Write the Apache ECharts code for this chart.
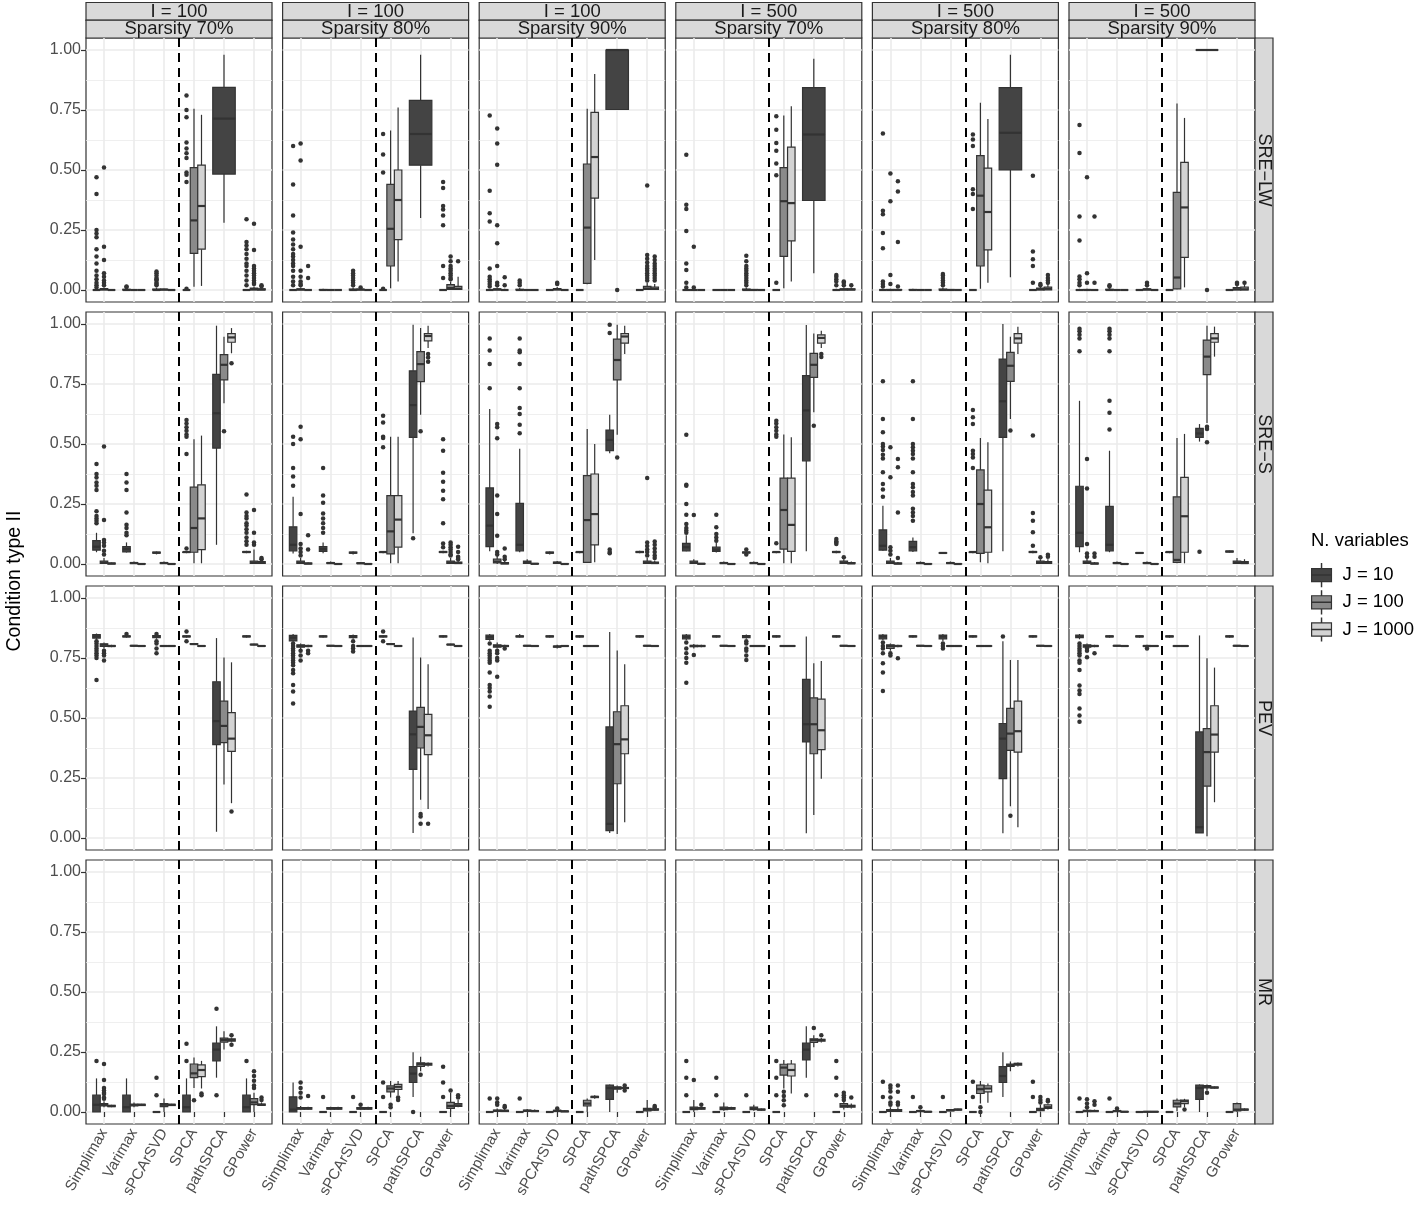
<!DOCTYPE html>
<html>
<head>
<meta charset="utf-8">
<script src="https://cdn.jsdelivr.net/npm/echarts@6/dist/echarts.min.js"></script>
<style>
  html, body { margin: 0; padding: 0; background: #fff; }
  #chart { width: 1418px; height: 1207px; }
</style>
</head>
<body>
<div id="chart"></div>
<script>
// categories and facet labels
const methods = ['Simplimax', 'Varimax', 'sPCArSVD', 'SPCA', 'pathSPCA', 'GPower'];
const jLevels = ['J = 10', 'J = 100', 'J = 1000'];
const sampleLabels = ['I = 100', 'I = 100', 'I = 100', 'I = 500', 'I = 500', 'I = 500'];
const sparsityLabels = ['Sparsity 70%', 'Sparsity 80%', 'Sparsity 90%', 'Sparsity 70%', 'Sparsity 80%', 'Sparsity 90%'];
const metricLabels = ['SRE\u2212LW', 'SRE\u2212S', 'PEV', 'MR'];
const yTicks = [0, 0.25, 0.5, 0.75, 1];
const yMinorTicks = [0.125, 0.375, 0.625, 0.875];
const xTicks = [1, 2, 3, 4, 5, 6];

// box stats per panel -> method -> J level: [min, q1, median, q3, max, [outliers]], null = not run
const sreLW = [
  [ // I = 100, 70%
    [[0,0,0,0,0,[0.47,0.40,0.25,0.235,0.22,0.17,0.14,0.11,0.08,0.06,0.045,0.03,0.02,0.01]], [0,0,0.003,0.006,0.01,[0.51,0.18,0.125,0.07,0.055,0.04,0.03,0.02]], [0,0,0,0,0.002]],
    [[0,0,0,0.003,0.006,[0.012,0.015]], [0,0,0,0,0.002], [0,0,0,0,0]],
    [[0,0,0,0.004,0.01,[0.077,0.07,0.06,0.05,0.045,0.04,0.03,0.025,0.02]], [0,0,0.002,0.003,0.005], [0,0,0,0,0.002]],
    [[0,0,0,0,0,[0.81,0.75,0.72,0.615,0.59,0.57,0.55,0.49,0.48,0.45,0.005]], [0.014,0.153,0.29,0.51,0.755], [0.017,0.17,0.35,0.52,0.73]],
    [[0.28,0.483,0.714,0.844,0.98], null, null],
    [[0,0,0,0,0,[0.295,0.2,0.185,0.17,0.15,0.13,0.11,0.1,0.08,0.06,0.04,0.02]], [0,0,0.003,0.008,0.015,[0.276,0.167,0.1,0.09,0.08,0.07,0.06,0.05,0.04,0.03,0.025]], [0,0,0.002,0.005,0.01,[0.02,0.015]]]
  ],
  [ // I = 100, 80%
    [[0,0,0,0,0,[0.6,0.44,0.31,0.24,0.21,0.19,0.17,0.15,0.14,0.125,0.11,0.1,0.08,0.055,0.035,0.02]], [0,0,0.002,0.005,0.01,[0.61,0.54,0.18,0.08,0.055,0.035,0.025,0.02]], [0,0,0,0,0.002,[0.1,0.05]]],
    [[0,0,0,0.002,0.005], [0,0,0,0,0.002], [0,0,0,0,0]],
    [[0,0,0,0.004,0.01,[0.08,0.07,0.06,0.05,0.04,0.03,0.02]], [0,0,0.002,0.003,0.005,[0.01]], [0,0,0,0,0.002]],
    [[0,0,0,0,0,[0.65,0.565,0.49,0.005]], [0.007,0.1,0.255,0.44,0.665], [0.035,0.21,0.375,0.5,0.76]],
    [[0.30,0.52,0.65,0.79,0.98], null, null],
    [[0,0,0,0,0,[0.45,0.425,0.35,0.335,0.31,0.27,0.1,0.05]], [0,0.003,0.008,0.022,0.035,[0.14,0.12,0.1,0.09,0.08,0.07,0.06,0.05,0.045]], [0,0.002,0.006,0.015,0.055,[0.12]]]
  ],
  [ // I = 100, 90%
    [[0,0,0,0,0,[0.727,0.414,0.32,0.285,0.09,0.055,0.045,0.035,0.025,0.015]], [0,0,0.002,0.005,0.01,[0.673,0.61,0.522,0.27,0.195,0.1,0.03,0.02]], [0,0,0,0,0.005,[0.053,0.02]]],
    [[0,0,0,0.003,0.008,[0.04,0.03,0.02]], [0,0,0,0,0.002], [0,0,0,0,0]],
    [[0,0,0,0,0.002], [0,0,0.003,0.006,0.012,[0.03,0.025]], [0,0,0,0,0]],
    [[0,0,0,0,0], [0.024,0.028,0.26,0.525,0.755], [0.125,0.383,0.554,0.74,0.9]],
    [[0.752,0.752,1,1,1,[0]], null, null],
    [[0,0,0,0,0], [0,0.002,0.006,0.015,0.03,[0.435,0.146,0.13,0.115,0.1,0.09,0.08,0.07,0.06,0.05,0.04]], [0,0.002,0.005,0.012,0.025,[0.14,0.125,0.11,0.1,0.09,0.08,0.07,0.06,0.05,0.04]]]
  ],
  [ // I = 500, 70%
    [[0,0,0,0,0,[0.564,0.355,0.337,0.246,0.11,0.083,0.03,0.01]], [0,0,0,0,0.003,[0.18,0.01]], [0,0,0,0,0.002]],
    [[0,0,0,0,0.002], [0,0,0,0,0.002], [0,0,0,0,0]],
    [[0,0,0,0.004,0.01,[0.143,0.12,0.1,0.09,0.08,0.07,0.06,0.05,0.04,0.03,0.02]], [0,0,0,0.002,0.004], [0,0,0,0,0.002]],
    [[0,0,0,0,0,[0.724,0.668,0.613,0.58,0.527,0.478,0.03]], [0.007,0.14,0.37,0.51,0.727], [0.035,0.205,0.362,0.595,0.766]],
    [[0.07,0.373,0.648,0.843,0.964], null, null],
    [[0,0,0,0,0.005,[0.063,0.055,0.045,0.035,0.02]], [0,0,0.002,0.005,0.01,[0.035,0.03,0.02]], [0,0,0.002,0.005,0.01,[0.02]]]
  ],
  [ // I = 500, 80%
    [[0,0,0,0,0.005,[0.652,0.33,0.316,0.237,0.174,0.035,0.025,0.015]], [0,0,0,0.002,0.005,[0.485,0.37,0.063,0.025]], [0,0,0,0.002,0.004,[0.453,0.41,0.2,0.015]]],
    [[0,0,0,0.002,0.005], [0,0,0,0,0.002], [0,0,0,0,0]],
    [[0,0,0,0.004,0.01,[0.067,0.06,0.05,0.04,0.03,0.02]], [0,0,0,0.002,0.004], [0,0,0,0,0.002]],
    [[0,0,0,0,0,[0.648,0.627,0.6,0.42,0.4,0.337]], [0.005,0.1,0.393,0.56,0.78], [0.03,0.167,0.325,0.508,0.713]],
    [[0.053,0.5,0.655,0.843,0.98], null, null],
    [[0,0,0,0,0,[0.476,0.16,0.128,0.1,0.03]], [0,0,0.003,0.008,0.015,[0.025,0.02]], [0,0,0.005,0.012,0.025,[0.063,0.05,0.04,0.03]]]
  ],
  [ // I = 500, 90%
    [[0,0,0,0,0.005,[0.687,0.571,0.306,0.206,0.056,0.045,0.03,0.02]], [0,0,0,0.002,0.005,[0.47,0.07,0.03]], [0,0,0,0,0.003,[0.306,0.03]]],
    [[0,0,0,0.003,0.008,[0.02,0.015]], [0,0,0,0,0.002], [0,0,0,0,0]],
    [[0,0,0,0,0.002], [0,0,0.002,0.005,0.01,[0.03,0.02]], [0,0,0,0,0]],
    [[0,0,0,0,0], [0.003,0.005,0.052,0.407,0.777], [0.011,0.136,0.344,0.532,0.717]],
    [[1,1,1,1,1,[0]], null, null],
    [[0,0,0,0,0], [0,0,0.003,0.01,0.02,[0.03,0.025]], [0,0,0.003,0.012,0.025,[0.03]]]
  ]
];

const sreS = [
  [
    [[0.049,0.058,0.072,0.097,0.13,[0.417,0.375,0.36,0.34,0.326,0.308,0.22,0.2,0.19,0.18,0.17]], [0,0.003,0.006,0.012,0.025,[0.49,0.183,0.1,0.09,0.076,0.055,0.04]], [0,0,0.002,0.004,0.006]],
    [[0.048,0.05,0.062,0.072,0.09,[0.375,0.34,0.308,0.215,0.164,0.15,0.13,0.12]], [0,0.002,0.004,0.006,0.01], [0,0,0,0.001,0.003]],
    [[0.04,0.045,0.047,0.05,0.052], [0,0.002,0.004,0.006,0.01], [0,0,0,0.001,0.003]],
    [[0.045,0.048,0.05,0.05,0.05,[0.6,0.585,0.57,0.555,0.54,0.53,0.458,0.065]], [0.003,0.049,0.15,0.32,0.52], [0.003,0.06,0.19,0.33,0.535]],
    [[0.08,0.483,0.628,0.79,0.993], [0.67,0.767,0.83,0.872,0.947,[0.553]], [0.878,0.924,0.944,0.96,0.983,[0.836]]],
    [[0.045,0.048,0.05,0.052,0.055,[0.29,0.215,0.2,0.19,0.17,0.16,0.145,0.13,0.11,0.095,0.08]], [0,0.003,0.006,0.012,0.06,[0.225,0.13,0.09,0.08]], [0,0.002,0.005,0.01,0.015,[0.02,0.025]]]
  ],
  [
    [[0.044,0.055,0.08,0.155,0.28,[0.53,0.5,0.4,0.365,0.326]], [0,0.003,0.006,0.012,0.025,[0.572,0.52,0.208,0.083,0.065,0.05,0.035]], [0,0,0.002,0.004,0.006,[0.12,0.06]]],
    [[0.045,0.053,0.062,0.072,0.09,[0.4,0.285,0.255,0.21,0.19,0.17,0.15,0.13]], [0,0.002,0.004,0.006,0.01], [0,0,0,0.001,0.003]],
    [[0.04,0.045,0.047,0.05,0.052], [0,0.002,0.003,0.005,0.008], [0,0,0,0.001,0.003]],
    [[0.045,0.048,0.05,0.05,0.052,[0.618,0.59,0.53,0.525,0.486]], [0.003,0.042,0.136,0.285,0.53], [0.003,0.07,0.185,0.285,0.53]],
    [[0.128,0.528,0.662,0.805,0.997,[0.107]], [0.622,0.76,0.833,0.885,0.983,[0.553]], [0.9,0.93,0.95,0.96,0.993,[0.875,0.86,0.843]]],
    [[0.045,0.048,0.05,0.052,0.055,[0.52,0.472,0.38,0.343,0.305,0.27,0.17,0.085,0.07]], [0,0.003,0.006,0.012,0.025,[0.09,0.08,0.07,0.06,0.05,0.04,0.035]], [0,0.002,0.004,0.008,0.015,[0.072,0.05,0.03,0.025,0.02]]]
  ],
  [
    [[0.053,0.072,0.16,0.317,0.646,[0.94,0.89,0.833,0.732]], [0,0.005,0.01,0.02,0.035,[0.583,0.57,0.524,0.285,0.208,0.118,0.05,0.04]], [0,0,0.003,0.006,0.012,[0.065,0.03,0.02]]],
    [[0.049,0.055,0.08,0.253,0.48,[0.94,0.89,0.882,0.833,0.732,0.65,0.625,0.58,0.545]], [0,0.003,0.008,0.012,0.02], [0,0,0.001,0.002,0.004]],
    [[0.04,0.045,0.047,0.05,0.052], [0,0.002,0.005,0.008,0.012], [0,0,0,0.001,0.003]],
    [[0.045,0.048,0.05,0.05,0.052], [0.007,0.007,0.183,0.368,0.562], [0.007,0.08,0.208,0.375,0.5]],
    [[0.461,0.472,0.517,0.558,0.622,[0.997,0.962,0.06,0.05,0.045]], [0.539,0.767,0.85,0.937,0.997,[0.444]], [0.875,0.92,0.948,0.96,0.993]],
    [[0.045,0.048,0.05,0.052,0.055], [0,0.003,0.006,0.012,0.025,[0.358,0.09,0.075,0.06,0.05,0.035]], [0,0.002,0.004,0.008,0.015,[0.094,0.08,0.065,0.05,0.035,0.025]]]
  ],
  [
    [[0.053,0.055,0.07,0.086,0.12,[0.539,0.33,0.326,0.25,0.205,0.167,0.15,0.14,0.13]], [0,0.003,0.006,0.012,0.02,[0.204]], [0,0,0.001,0.002,0.004]],
    [[0.048,0.053,0.06,0.07,0.09,[0.205,0.153,0.125,0.11,0.097]], [0,0.002,0.004,0.006,0.01], [0,0,0,0.001,0.003]],
    [[0.043,0.046,0.048,0.05,0.052,[0.06,0.04]], [0,0.002,0.004,0.006,0.01], [0,0,0,0.001,0.003]],
    [[0.045,0.048,0.05,0.05,0.052,[0.597,0.585,0.57,0.555,0.54,0.53,0.086]], [0.003,0.062,0.225,0.358,0.54], [0.003,0.053,0.163,0.358,0.528]],
    [[0.053,0.43,0.64,0.785,0.996], [0.632,0.778,0.83,0.878,0.96,[0.576]], [0.9,0.92,0.942,0.955,0.972,[0.875,0.862]]],
    [[0.045,0.048,0.05,0.052,0.055,[0.104,0.095,0.09,0.083]], [0,0.003,0.006,0.012,0.02,[0.028]], [0,0.001,0.003,0.006,0.01]]
  ],
  [
    [[0.055,0.058,0.076,0.142,0.243,[0.761,0.604,0.549,0.5,0.49,0.475,0.455,0.44,0.382,0.333,0.31,0.28]], [0,0.003,0.006,0.012,0.025,[0.486,0.361,0.07,0.055,0.04]], [0,0,0.002,0.004,0.008,[0.437,0.403,0.215,0.025]]],
    [[0.05,0.055,0.07,0.094,0.11,[0.761,0.604,0.5,0.486,0.472,0.458,0.44,0.382,0.333,0.32,0.3,0.285,0.23,0.215,0.2,0.18]], [0,0.002,0.004,0.006,0.01], [0,0,0,0.001,0.003]],
    [[0.043,0.045,0.046,0.047,0.048], [0,0.002,0.004,0.006,0.01], [0,0,0,0.001,0.003]],
    [[0.045,0.048,0.05,0.05,0.052,[0.642,0.611,0.583,0.472,0.458,0.444,0.4]], [0.007,0.044,0.25,0.392,0.525], [0.003,0.049,0.153,0.308,0.507]],
    [[0.053,0.528,0.678,0.854,1.0], [0.604,0.761,0.826,0.882,0.947,[0.556]], [0.875,0.92,0.94,0.96,0.989]],
    [[0.045,0.048,0.05,0.052,0.055,[0.535,0.212,0.18,0.132,0.076]], [0,0.003,0.006,0.012,0.02,[0.028]], [0,0.002,0.005,0.01,0.02,[0.039,0.03]]]
  ],
  [
    [[0.049,0.072,0.13,0.324,0.68,[0.98,0.97,0.955,0.94,0.886]], [0,0.003,0.006,0.012,0.025,[0.437,0.315,0.083,0.044,0.03]], [0,0,0.002,0.004,0.008,[0.044,0.03]]],
    [[0.049,0.055,0.08,0.24,0.472,[0.98,0.97,0.955,0.94,0.886,0.68,0.63,0.56]], [0,0.002,0.004,0.006,0.01], [0,0,0,0.001,0.003]],
    [[0.043,0.045,0.046,0.047,0.048], [0,0.002,0.004,0.006,0.01], [0,0,0,0.001,0.003]],
    [[0.045,0.048,0.05,0.05,0.052], [0.003,0.007,0.017,0.28,0.525], [0.003,0.049,0.199,0.361,0.542]],
    [[0.51,0.528,0.544,0.565,0.583,[0.051]], [0.588,0.789,0.864,0.933,0.993,[0.572,0.562,0.507]], [0.864,0.924,0.94,0.96,0.989]],
    [[0.048,0.05,0.052,0.054,0.056], [0,0.003,0.006,0.012,0.025], [0,0.002,0.004,0.01,0.02]]
  ]
];

const pev = [
  [
    [[0.826,0.833,0.84,0.847,0.852,[0.82,0.81,0.8,0.79,0.78,0.77,0.76,0.75,0.658]], [0.79,0.798,0.805,0.809,0.815,[0.78,0.77,0.76,0.74]], [0.795,0.798,0.8,0.802,0.805]],
    [[0.835,0.838,0.84,0.842,0.845,[0.85]], [0.798,0.8,0.801,0.802,0.804], [0.798,0.799,0.8,0.801,0.802]],
    [[0.83,0.835,0.84,0.843,0.848,[0.85,0.82,0.81,0.79,0.77]], [0.798,0.799,0.8,0.801,0.802], [0.798,0.799,0.8,0.801,0.802]],
    [[0.835,0.838,0.84,0.842,0.845,[0.86,0.82]], [0.805,0.807,0.808,0.81,0.812], [0.798,0.799,0.8,0.801,0.802]],
    [[0.026,0.389,0.487,0.651,0.833], [0.223,0.397,0.467,0.57,0.752], [0.145,0.361,0.414,0.522,0.732,[0.11]]],
    [[0.835,0.838,0.84,0.842,0.845], [0.803,0.805,0.806,0.807,0.809], [0.798,0.799,0.8,0.801,0.802]]
  ],
  [
    [[0.818,0.821,0.835,0.844,0.85,[0.81,0.8,0.79,0.78,0.77,0.76,0.75,0.74,0.73,0.72,0.7,0.686,0.637,0.61,0.56]], [0.785,0.795,0.8,0.805,0.81,[0.78,0.76,0.74]], [0.795,0.798,0.8,0.802,0.805,[0.78,0.77]]],
    [[0.835,0.838,0.84,0.842,0.845], [0.798,0.8,0.801,0.802,0.804], [0.798,0.799,0.8,0.801,0.802]],
    [[0.83,0.835,0.84,0.843,0.848,[0.82,0.8,0.79,0.777]], [0.798,0.799,0.8,0.801,0.802], [0.798,0.799,0.8,0.801,0.802]],
    [[0.835,0.838,0.84,0.842,0.845,[0.86,0.82]], [0.805,0.807,0.808,0.81,0.812], [0.798,0.799,0.8,0.801,0.802]],
    [[0.021,0.286,0.432,0.529,0.835], [0.159,0.375,0.463,0.544,0.752,[0.1,0.09,0.059]], [0.121,0.347,0.428,0.515,0.724,[0.059]]],
    [[0.835,0.838,0.84,0.842,0.845], [0.803,0.805,0.806,0.807,0.809], [0.798,0.799,0.8,0.801,0.802]]
  ],
  [
    [[0.822,0.828,0.838,0.845,0.85,[0.81,0.78,0.77,0.76,0.75,0.74,0.73,0.69,0.637,0.625,0.61,0.59,0.547]], [0.79,0.795,0.8,0.805,0.815,[0.78,0.77,0.75,0.74,0.672]], [0.795,0.798,0.8,0.802,0.805,[0.79]]],
    [[0.835,0.838,0.84,0.842,0.85], [0.798,0.8,0.801,0.802,0.804], [0.798,0.799,0.8,0.801,0.802]],
    [[0.835,0.838,0.84,0.842,0.845], [0.79,0.795,0.798,0.8,0.805], [0.798,0.799,0.8,0.801,0.802]],
    [[0.835,0.838,0.84,0.842,0.845], [0.798,0.799,0.8,0.801,0.803], [0.798,0.799,0.8,0.801,0.802]],
    [[0.021,0.031,0.059,0.463,0.858], [0.017,0.226,0.391,0.526,0.781], [0.066,0.351,0.411,0.551,0.724]],
    [[0.835,0.838,0.84,0.842,0.845], [0.798,0.8,0.801,0.802,0.804], [0.798,0.799,0.8,0.801,0.802]]
  ],
  [
    [[0.825,0.83,0.838,0.845,0.85,[0.815,0.79,0.77,0.75,0.73,0.647]], [0.79,0.797,0.8,0.803,0.808,[0.763]], [0.795,0.798,0.8,0.802,0.805]],
    [[0.835,0.838,0.84,0.842,0.845], [0.798,0.8,0.801,0.802,0.804], [0.798,0.799,0.8,0.801,0.802]],
    [[0.83,0.835,0.84,0.843,0.848,[0.82,0.81,0.79,0.78,0.76,0.742]], [0.798,0.799,0.8,0.801,0.802], [0.798,0.799,0.8,0.801,0.802]],
    [[0.835,0.838,0.84,0.842,0.845], [0.798,0.799,0.8,0.801,0.803], [0.798,0.799,0.8,0.801,0.802]],
    [[0.02,0.4,0.474,0.661,0.84], [0.096,0.351,0.474,0.584,0.728], [0.247,0.368,0.449,0.579,0.738]],
    [[0.835,0.838,0.84,0.842,0.845], [0.798,0.8,0.801,0.802,0.804], [0.798,0.799,0.8,0.801,0.802]]
  ],
  [
    [[0.825,0.83,0.84,0.845,0.85,[0.815,0.8,0.79,0.77,0.728,0.69,0.612]], [0.78,0.79,0.8,0.805,0.81,[0.77,0.76]], [0.795,0.798,0.8,0.802,0.805,[0.749]]],
    [[0.835,0.838,0.84,0.842,0.845], [0.798,0.8,0.801,0.802,0.804], [0.798,0.799,0.8,0.801,0.802]],
    [[0.82,0.83,0.84,0.845,0.85,[0.81,0.8,0.79]], [0.798,0.799,0.8,0.801,0.802], [0.798,0.799,0.8,0.801,0.802]],
    [[0.835,0.838,0.84,0.842,0.845], [0.798,0.799,0.8,0.801,0.803], [0.798,0.799,0.8,0.801,0.802]],
    [[0.02,0.247,0.414,0.477,0.82,[0.84]], [0.132,0.365,0.435,0.54,0.742,[0.093]], [0.045,0.358,0.445,0.57,0.742]],
    [[0.835,0.838,0.84,0.842,0.845], [0.798,0.8,0.801,0.802,0.804], [0.798,0.799,0.8,0.801,0.802]]
  ],
  [
    [[0.828,0.835,0.84,0.845,0.85,[0.81,0.8,0.79,0.78,0.77,0.76,0.74,0.73,0.7,0.635,0.615,0.6,0.54,0.51,0.484]], [0.785,0.795,0.8,0.805,0.81,[0.79,0.78,0.753]], [0.795,0.798,0.8,0.802,0.805,[0.77]]],
    [[0.835,0.838,0.84,0.842,0.845], [0.798,0.8,0.801,0.802,0.804], [0.798,0.799,0.8,0.801,0.802]],
    [[0.835,0.838,0.84,0.842,0.845], [0.795,0.798,0.8,0.802,0.805,[0.79]], [0.798,0.799,0.8,0.801,0.802]],
    [[0.835,0.838,0.84,0.842,0.845], [0.798,0.799,0.8,0.801,0.803], [0.798,0.799,0.8,0.801,0.802]],
    [[0.021,0.021,0.045,0.442,0.844], [0.007,0.216,0.358,0.456,0.749], [0.149,0.358,0.431,0.551,0.71]],
    [[0.835,0.838,0.84,0.842,0.845], [0.798,0.8,0.801,0.802,0.804], [0.798,0.799,0.8,0.801,0.802]]
  ]
];

const mr = [
  [
    [[0,0,0.03,0.07,0.14,[0.213]], [0.02,0.025,0.03,0.035,0.045,[0.2,0.133,0.1,0.09,0.08,0.075,0.06,0.055]], [0.02,0.022,0.025,0.028,0.03]],
    [[0,0,0.02,0.07,0.14], [0.02,0.025,0.03,0.032,0.04], [0.025,0.027,0.03,0.032,0.034]],
    [[0,0,0,0,0,[0.143,0.07]], [0,0.022,0.03,0.035,0.056], [0.025,0.027,0.03,0.032,0.034]],
    [[0,0,0.02,0.07,0.14,[0.284,0.213]], [0.1,0.143,0.161,0.2,0.227,[0.049]], [0.098,0.147,0.175,0.196,0.213,[0.077,0.07]]],
    [[0.143,0.213,0.26,0.287,0.357,[0.43,0.07]], [0.26,0.291,0.3,0.308,0.336], [0.29,0.295,0.3,0.305,0.31,[0.28,0.32]]],
    [[0,0,0.02,0.07,0.14,[0.213]], [0,0.031,0.04,0.056,0.08,[0.17,0.15,0.13,0.11,0.1]], [0.025,0.028,0.03,0.033,0.04,[0.06,0.05]]]
  ],
  [
    [[0,0,0.01,0.063,0.123], [0.01,0.012,0.015,0.018,0.025,[0.123,0.1,0.08,0.06]], [0.01,0.012,0.015,0.018,0.022,[0.067]]],
    [[0,0,0,0,0,[0.063]], [0.01,0.012,0.015,0.018,0.022], [0.01,0.012,0.015,0.018,0.022]],
    [[0,0,0,0,0,[0.063]], [0.01,0.012,0.015,0.018,0.022,[0.03]], [0.01,0.012,0.015,0.018,0.022]],
    [[0,0,0,0,0,[0.123,0.063]], [0.06,0.084,0.098,0.109,0.129,[0.03,0.02]], [0.07,0.094,0.105,0.115,0.129,[0.06,0.05]]],
    [[0.063,0.123,0.16,0.189,0.249,[0]], [0.17,0.19,0.2,0.205,0.23,[0.155]], [0.19,0.195,0.2,0.203,0.206]],
    [[0,0,0,0,0,[0.189,0.123,0.063]], [0,0.015,0.025,0.04,0.08,[0.09]], [0.02,0.023,0.028,0.035,0.05,[0.07,0.06]]]
  ],
  [
    [[0,0,0,0,0,[0.056]], [0,0.002,0.005,0.008,0.015,[0.056,0.04,0.03]], [0,0.002,0.005,0.007,0.012,[0.025,0.02]]],
    [[0,0,0,0,0,[0.056]], [0,0.002,0.005,0.008,0.012], [0,0.002,0.004,0.006,0.01]],
    [[0,0,0,0,0], [0,0.002,0.005,0.007,0.01,[0.015]], [0,0.001,0.003,0.004,0.006]],
    [[0,0,0,0,0], [0,0.025,0.035,0.049,0.056], [0.055,0.06,0.063,0.065,0.07]],
    [[0,0.053,0.1,0.112,0.115], [0.08,0.095,0.1,0.105,0.11], [0.095,0.098,0.1,0.102,0.105,[0.11,0.09]]],
    [[0,0,0,0,0], [0,0.005,0.01,0.015,0.05], [0.005,0.008,0.01,0.013,0.018,[0.025,0.02]]]
  ],
  [
    [[0,0,0,0,0,[0.213,0.143,0.07]], [0,0.01,0.015,0.02,0.05,[0.133]], [0.01,0.012,0.015,0.018,0.022,[0.03]]],
    [[0,0,0,0,0,[0.143,0.07]], [0.005,0.01,0.015,0.02,0.04], [0.01,0.012,0.015,0.018,0.022]],
    [[0,0,0,0,0,[0.07]], [0.005,0.01,0.015,0.02,0.03], [0.005,0.008,0.01,0.012,0.015]],
    [[0,0,0,0,0,[0.213,0.143,0.07]], [0.098,0.154,0.185,0.199,0.217,[0.084,0.067,0.049,0.028]], [0.077,0.15,0.175,0.2,0.217]],
    [[0.143,0.217,0.26,0.287,0.357,[0.07]], [0.27,0.29,0.3,0.305,0.32,[0.35]], [0.29,0.295,0.3,0.303,0.308,[0.32]]],
    [[0,0,0,0,0,[0.213,0.143,0.07]], [0.01,0.02,0.025,0.035,0.045,[0.08,0.07,0.06,0.05]], [0.015,0.02,0.025,0.028,0.035,[0.06]]]
  ],
  [
    [[0,0,0,0,0,[0.126,0.063]], [0,0.002,0.005,0.01,0.02,[0.11,0.1,0.085,0.06,0.04,0.03]], [0,0.002,0.005,0.01,0.02,[0.11,0.084,0.04,0.03]]],
    [[0,0,0,0,0,[0.063]], [0,0.002,0.004,0.006,0.01,[0.02]], [0,0,0.001,0.002,0.004]],
    [[0,0,0,0,0,[0.063]], [0.003,0.005,0.007,0.01,0.013], [0.006,0.008,0.01,0.012,0.014]],
    [[0,0,0,0,0,[0.126,0.063]], [0.035,0.077,0.095,0.112,0.129,[0.02,0]], [0.039,0.084,0.098,0.109,0.119]],
    [[0.063,0.123,0.15,0.189,0.249], [0.17,0.19,0.195,0.2,0.21], [0.19,0.195,0.2,0.203,0.206]],
    [[0,0,0,0,0,[0.126,0.063]], [0.002,0.006,0.01,0.015,0.03,[0.063,0.05,0.04]], [0.01,0.015,0.02,0.03,0.035,[0.05,0.045]]]
  ],
  [
    [[0,0,0,0,0,[0.056]], [0,0.002,0.004,0.007,0.012,[0.053,0.035,0.02]], [0,0.002,0.004,0.006,0.01,[0.045,0.03]]],
    [[0,0,0,0,0,[0.056]], [0,0.002,0.004,0.006,0.01,[0.015]], [0,0,0.001,0.002,0.003]],
    [[0,0,0,0,0], [0,0,0.001,0.002,0.003], [0,0,0.001,0.002,0.003]],
    [[0,0,0,0,0], [0.003,0.021,0.035,0.049,0.056], [0.02,0.035,0.045,0.05,0.055,[0.01]]],
    [[0,0.053,0.1,0.112,0.115], [0.09,0.1,0.105,0.11,0.115,[0.08]], [0.098,0.1,0.102,0.104,0.106]],
    [[0,0,0,0,0], [0,0.005,0.01,0.035,0.04], [0.005,0.008,0.01,0.012,0.015]]
  ]
];

const metricData = [sreLW, sreS, pev, mr];
const fills = ['#444444', '#8a8a8a', '#d3d3d3'];
const lineColor = '#333333';
const font = '"Liberation Sans", Arial, Helvetica, sans-serif';

// facet layout (px)
const panelLeft = 86, colPitch = 196.6, panelW = 186;
const panelTop = 38, rowPitch = 274, panelH = 264;
const dodgeWidth = 0.75;

const chart = echarts.init(document.getElementById('chart'));

// dodge boxes the way ggplot does: the groups present at a position share its width
function layoutPanel(panel) {
  const boxes = [[], [], []];
  const outliers = [];
  panel.forEach((group, m) => {
    const present = [];
    group.forEach((b, j) => { if (b) present.push(j); });
    const w = dodgeWidth / present.length;
    present.forEach((j, k) => {
      const b = group[j];
      const xc = m + 1 - dodgeWidth / 2 + (k + 0.5) * w;
      boxes[j].push([xc, w, b[0], b[1], b[2], b[3], b[4]]);
      (b[5] || []).forEach(v => outliers.push([xc, v]));
    });
  });
  return { boxes, outliers };
}

function renderBox(params, api) {
  const xc = api.value(0), w = api.value(1);
  const pMin = api.coord([xc, api.value(2)]);
  const pQ1 = api.coord([xc, api.value(3)]);
  const pMed = api.coord([xc, api.value(4)]);
  const pQ3 = api.coord([xc, api.value(5)]);
  const pMax = api.coord([xc, api.value(6)]);
  const x0 = api.coord([xc - w / 2, 0])[0];
  const x1 = api.coord([xc + w / 2, 0])[0];
  const stroke = { stroke: lineColor, lineWidth: 1.2 };
  return {
    type: 'group',
    children: [
      { type: 'line', shape: { x1: pQ3[0], y1: pQ3[1], x2: pMax[0], y2: pMax[1] }, style: stroke },
      { type: 'line', shape: { x1: pQ1[0], y1: pQ1[1], x2: pMin[0], y2: pMin[1] }, style: stroke },
      { type: 'rect', shape: { x: x0, y: pQ3[1], width: x1 - x0, height: pQ1[1] - pQ3[1] },
        style: { fill: api.visual('color'), stroke: lineColor, lineWidth: 1.2 } },
      { type: 'line', shape: { x1: x0, y1: pMed[1], x2: x1, y2: pMed[1] }, style: { stroke: lineColor, lineWidth: 2.2 } }
    ]
  };
}

const grids = [], xAxes = [], yAxes = [], series = [], graphics = [];

metricData.forEach((metric, r) => {
  metric.forEach((panel, c) => {
    const g = r * 6 + c;
    grids.push({
      left: panelLeft + c * colPitch, top: panelTop + r * rowPitch,
      width: panelW, height: panelH,
      show: true, borderColor: lineColor, borderWidth: 1.2, backgroundColor: '#fff'
    });
    xAxes.push({
      type: 'value', gridIndex: g, min: 0.4, max: 6.6,
      axisLine: { show: false },
      axisTick: { show: r === 3, customValues: xTicks, length: 5, lineStyle: { color: lineColor, width: 1.2 } },
      axisLabel: {
        show: r === 3, customValues: xTicks, rotate: 60, margin: 6,
        formatter: v => methods[Math.round(v) - 1],
        fontSize: 15, color: '#4d4d4d', fontFamily: font
      },
      splitLine: { show: true, lineStyle: { color: '#ebebeb', width: 1.6 } }
    });
    yAxes.push({
      type: 'value', gridIndex: g, min: -0.05, max: 1.05, position: 'left',
      axisLine: { show: false },
      axisTick: { show: c === 0, customValues: yTicks, length: 5, lineStyle: { color: lineColor, width: 1.2 } },
      axisLabel: {
        show: c === 0, customValues: yTicks, margin: 5,
        formatter: v => v.toFixed(2),
        fontSize: 16, color: '#4d4d4d', fontFamily: font
      },
      splitLine: { show: true, lineStyle: { color: '#ebebeb', width: 1.6 } }
    });
    yAxes.push({
      type: 'value', gridIndex: g, min: -0.05, max: 1.05, position: 'left',
      axisLine: { show: false },
      axisTick: { show: false, customValues: yMinorTicks },
      axisLabel: { show: false, customValues: yMinorTicks },
      splitLine: { show: true, lineStyle: { color: '#ebebeb', width: 0.8 } }
    });

    const { boxes, outliers } = layoutPanel(panel);
    jLevels.forEach((name, j) => {
      series.push({
        type: 'custom', name, xAxisIndex: g, yAxisIndex: 2 * g,
        itemStyle: { color: fills[j] },
        renderItem: renderBox,
        encode: { x: 0, y: [2, 3, 4, 5, 6] },
        data: boxes[j], silent: true
      });
    });
    series.push({
      type: 'scatter', name: 'outliers', xAxisIndex: g, yAxisIndex: 2 * g,
      symbolSize: 4.5, itemStyle: { color: lineColor, opacity: 1 },
      data: outliers, silent: true,
      markLine: {
        silent: true, symbol: 'none', label: { show: false },
        lineStyle: { color: '#000', type: [9, 6], width: 2 },
        data: [{ xAxis: 3.5 }]
      }
    });

    // right strip with the metric name
    if (c === 5) {
      const top = panelTop + r * rowPitch;
      graphics.push({
        type: 'rect', shape: { x: panelLeft + 5 * colPitch + panelW, y: top, width: 18, height: panelH },
        style: { fill: '#d9d9d9', stroke: lineColor, lineWidth: 1.2 }
      });
      graphics.push({
        type: 'text', x: panelLeft + 5 * colPitch + panelW + 9, y: top + panelH / 2, rotation: -Math.PI / 2,
        style: { text: metricLabels[r], align: 'center', verticalAlign: 'middle', fontSize: 18, fontFamily: font, fill: '#1a1a1a' }
      });
    }
  });
});

// top strips
sampleLabels.forEach((lab, c) => {
  const x = panelLeft + c * colPitch;
  [[lab, 2.5], [sparsityLabels[c], 20.2]].forEach(([txt, y]) => {
    graphics.push({
      type: 'rect', shape: { x, y, width: panelW, height: 17.8 },
      style: { fill: '#d9d9d9', stroke: lineColor, lineWidth: 1.2 }
    });
    graphics.push({
      type: 'text', x: x + panelW / 2, y: y + 9.2,
      style: { text: txt, align: 'center', verticalAlign: 'middle', fontSize: 18.5, fontFamily: font, fill: '#1a1a1a' }
    });
  });
});

// y axis title
graphics.push({
  type: 'text', x: 15, y: panelTop + (3 * rowPitch + panelH) / 2, rotation: Math.PI / 2,
  style: { text: 'Condition type II', align: 'center', verticalAlign: 'middle', fontSize: 19.5, fontFamily: font, fill: '#000' }
});

const boxIcon = 'path://M12,25L88,25L88,75L12,75Z M49.5,6L50.5,6L50.5,25L49.5,25Z M49.5,75L50.5,75L50.5,94L49.5,94Z M12,49.5L88,49.5L88,50.5L12,50.5Z';

chart.setOption({
  animation: false,
  backgroundColor: '#fff',
  title: {
    text: 'N. variables', left: 1306, top: 526,
    textStyle: { fontSize: 18.5, fontWeight: 'normal', color: '#000', fontFamily: font }
  },
  legend: {
    data: jLevels.map(name => ({ name, icon: boxIcon })),
    orient: 'vertical', left: 1306, top: 558,
    itemWidth: 24, itemHeight: 23, itemGap: 3, selectedMode: false,
    itemStyle: { borderColor: lineColor, borderWidth: 1.2 },
    textStyle: { fontSize: 18.5, color: '#000', fontFamily: font, padding: [0, 0, 0, 4] }
  },
  grid: grids,
  xAxis: xAxes,
  yAxis: yAxes,
  series,
  graphic: { elements: graphics }
});
</script>
</body>
</html>
